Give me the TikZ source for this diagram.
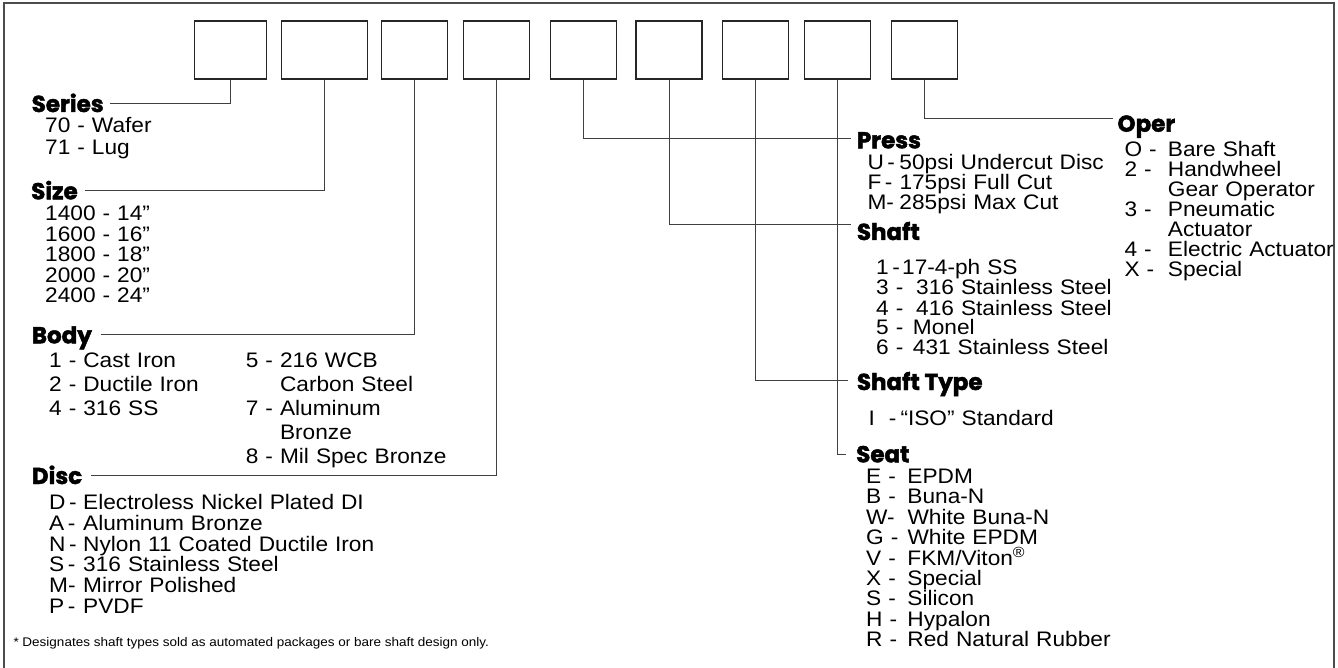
\documentclass[tikz,border=0pt]{standalone}
\usepackage{fontspec}
\setmainfont{Liberation Sans}[FakeStretch=1.08]
\newfontfamily\headfont{Poppins}[BoldFeatures={FakeBold=2}]
\usepackage{tikz}
\tikzset{
  codebox/.style={rectangle,draw=black!85,line width=1.2pt,
    minimum width=66pt,minimum height=58pt,inner sep=0pt},
  headtext/.style={anchor=base west,inner sep=0pt,text height=17pt,
    text depth=0pt,font=\headfont\bfseries\fontsize{23}{23}\selectfont},
  optlist/.style={anchor=base west,inner sep=0pt,align=left,
    text width=330pt,font=\fontsize{21}{20.4}\selectfont},
  leader/.style={draw=black!75,line width=0.9pt},
  frameline/.style={draw=black!70,line width=1.3pt}
}

\begin{document}
\begin{tikzpicture}[x=1pt,y=-1pt]
  \path[use as bounding box,clip] (0,0) rectangle (1338,668);
  \draw[frameline] (4,680) -- (4,3) -- (1334,3) -- (1334,680);

  % code boxes
  \node[codebox,minimum width=72pt] (b1) at (230.7,50) {};
  \node[codebox,minimum width=86pt] (b2) at (324.5,50) {};
  \node[codebox] (b3) at (414.3,50) {};
  \node[codebox] (b4) at (496.3,50) {};
  \node[codebox] (b5) at (583.1,50) {};
  \node[codebox] (b6) at (669,50) {};
  \node[codebox] (b7) at (755.5,50) {};
  \node[codebox] (b8) at (837.7,50) {};
  \node[codebox] (b9) at (924.2,50) {};

  % left column
  \node[headtext] (hseries) at (31.5,112) {Series};
  \node[optlist,font=\fontsize{21}{21.3}\selectfont] (serieslist) at (45,133)
    {70 - Wafer\\71 - Lug};
  \node[headtext] (hsize) at (31,199.3) {Size};
  \node[optlist] (sizelist) at (45,221)
    {1400 - 14”\\1600 - 16”\\1800 - 18”\\2000 - 20”\\2400 - 24”};
  \node[headtext] (hbody) at (31.7,343.3) {Body};
  \node[optlist,font=\fontsize{21}{24}\selectfont] (bodylista) at (49,367.5)
    {1 - Cast Iron\\2 - Ductile Iron\\4 - 316 SS};
  \node[optlist,font=\fontsize{21}{24}\selectfont] (bodylistb) at (245.7,367.5)
    {5 - 216 WCB\\\phantom{5 - }Carbon Steel\\7 - Aluminum\\
     \phantom{7 - }Bronze\\8 - Mil Spec Bronze};
  \node[headtext] (hdisc) at (31.7,484) {Disc};
  \node[optlist,font=\fontsize{21}{20.8}\selectfont] (disclist) at (49,509.5)
    {\makebox[34pt][l]{D\,-}Electroless Nickel Plated DI\\
     \makebox[34pt][l]{A\,-}Aluminum Bronze\\
     \makebox[34pt][l]{N\,-}Nylon 11 Coated Ductile Iron\\
     \makebox[34pt][l]{S\,-}316 Stainless Steel\\
     \makebox[34pt][l]{M-}Mirror Polished\\
     \makebox[34pt][l]{P\,-}PVDF};
  \node[anchor=base west,inner sep=0pt,font=\fontsize{12.5}{14}\selectfont]
    (footnote) at (13.3,646.7)
    {* Designates shaft types sold as automated packages or bare shaft design only.};

  % right columns
  \node[headtext] (hpress) at (856.7,148.3) {Press};
  \node[optlist,font=\fontsize{21}{20}\selectfont] (presslist) at (867.3,170)
    {\makebox[32pt][l]{U\,-}50psi Undercut Disc\\
     \makebox[32pt][l]{F\,-}175psi Full Cut\\
     \makebox[32pt][l]{M-}285psi Max Cut};
  \node[headtext] (hshaft) at (856.7,240) {Shaft};
  \node[optlist,font=\fontsize{21}{20}\selectfont] (shaftlist) at (876,275)
    {\makebox[26pt][l]{1\,-}17-4-ph SS\\
     \makebox[40pt][l]{3 -}316 Stainless Steel\\
     \makebox[40pt][l]{4 -}416 Stainless Steel\\
     \makebox[36.7pt][l]{5 -}Monel\\
     \makebox[36.7pt][l]{6 -}431 Stainless Steel};
  \node[headtext] (htype) at (856.7,390) {Shaft Type};
  \node[optlist] (typelist) at (868.3,425)
    {\makebox[32pt][l]{I\ \ -}“ISO” Standard};
  \node[headtext] (hseat) at (856,462.3) {Seat};
  \node[optlist] (seatlist) at (866,483.5)
    {\makebox[41.3pt][l]{E -}EPDM\\
     \makebox[41.3pt][l]{B -}Buna-N\\
     \makebox[41.3pt][l]{W-}White Buna-N\\
     \makebox[41.3pt][l]{G -}White EPDM\\
     \makebox[41.3pt][l]{V -}FKM/Viton\textsuperscript{®}\\
     \makebox[41.3pt][l]{X -}Special\\
     \makebox[41.3pt][l]{S -}Silicon\\
     \makebox[41.3pt][l]{H -}Hypalon\\
     \makebox[41.3pt][l]{R -}Red Natural Rubber};
  \node[headtext] (hoper) at (1117.3,131.7) {Oper};
  \node[optlist,font=\fontsize{21}{20}\selectfont] (operlist) at (1124.3,156.7)
    {\makebox[43.4pt][l]{O -}Bare Shaft\\
     \makebox[43.4pt][l]{2 -}Handwheel\\
     \makebox[43.4pt][l]{}Gear Operator\\
     \makebox[43.4pt][l]{3 -}Pneumatic\\
     \makebox[43.4pt][l]{}Actuator\\
     \makebox[43.4pt][l]{4 -}Electric Actuator\\
     \makebox[43.4pt][l]{X -}Special};

  % leaders
  \draw[leader] (b1.south) |- ([xshift=6pt]hseries.east);
  \draw[leader] (b2.south) |- ([xshift=7pt]hsize.east);
  \draw[leader] (b3.south) |- ([xshift=9pt]hbody.east);
  \draw[leader] (b4.south) |- ([xshift=9pt]hdisc.east);
  \draw[leader] (b5.south) |- ([shift={(-6,-10)}]hpress.base west);
  \draw[leader] (b6.south) |- ([shift={(-6,-15.3)}]hshaft.base west);
  \draw[leader] (b7.south) |- ([shift={(-9,-10)}]htype.base west);
  \draw[leader] (b8.south) |- ([shift={(-10,-8.3)}]hseat.base west);
  \draw[leader] (b9.south) |- ([shift={(-4,-13)}]hoper.base west);
\end{tikzpicture}
\end{document}
